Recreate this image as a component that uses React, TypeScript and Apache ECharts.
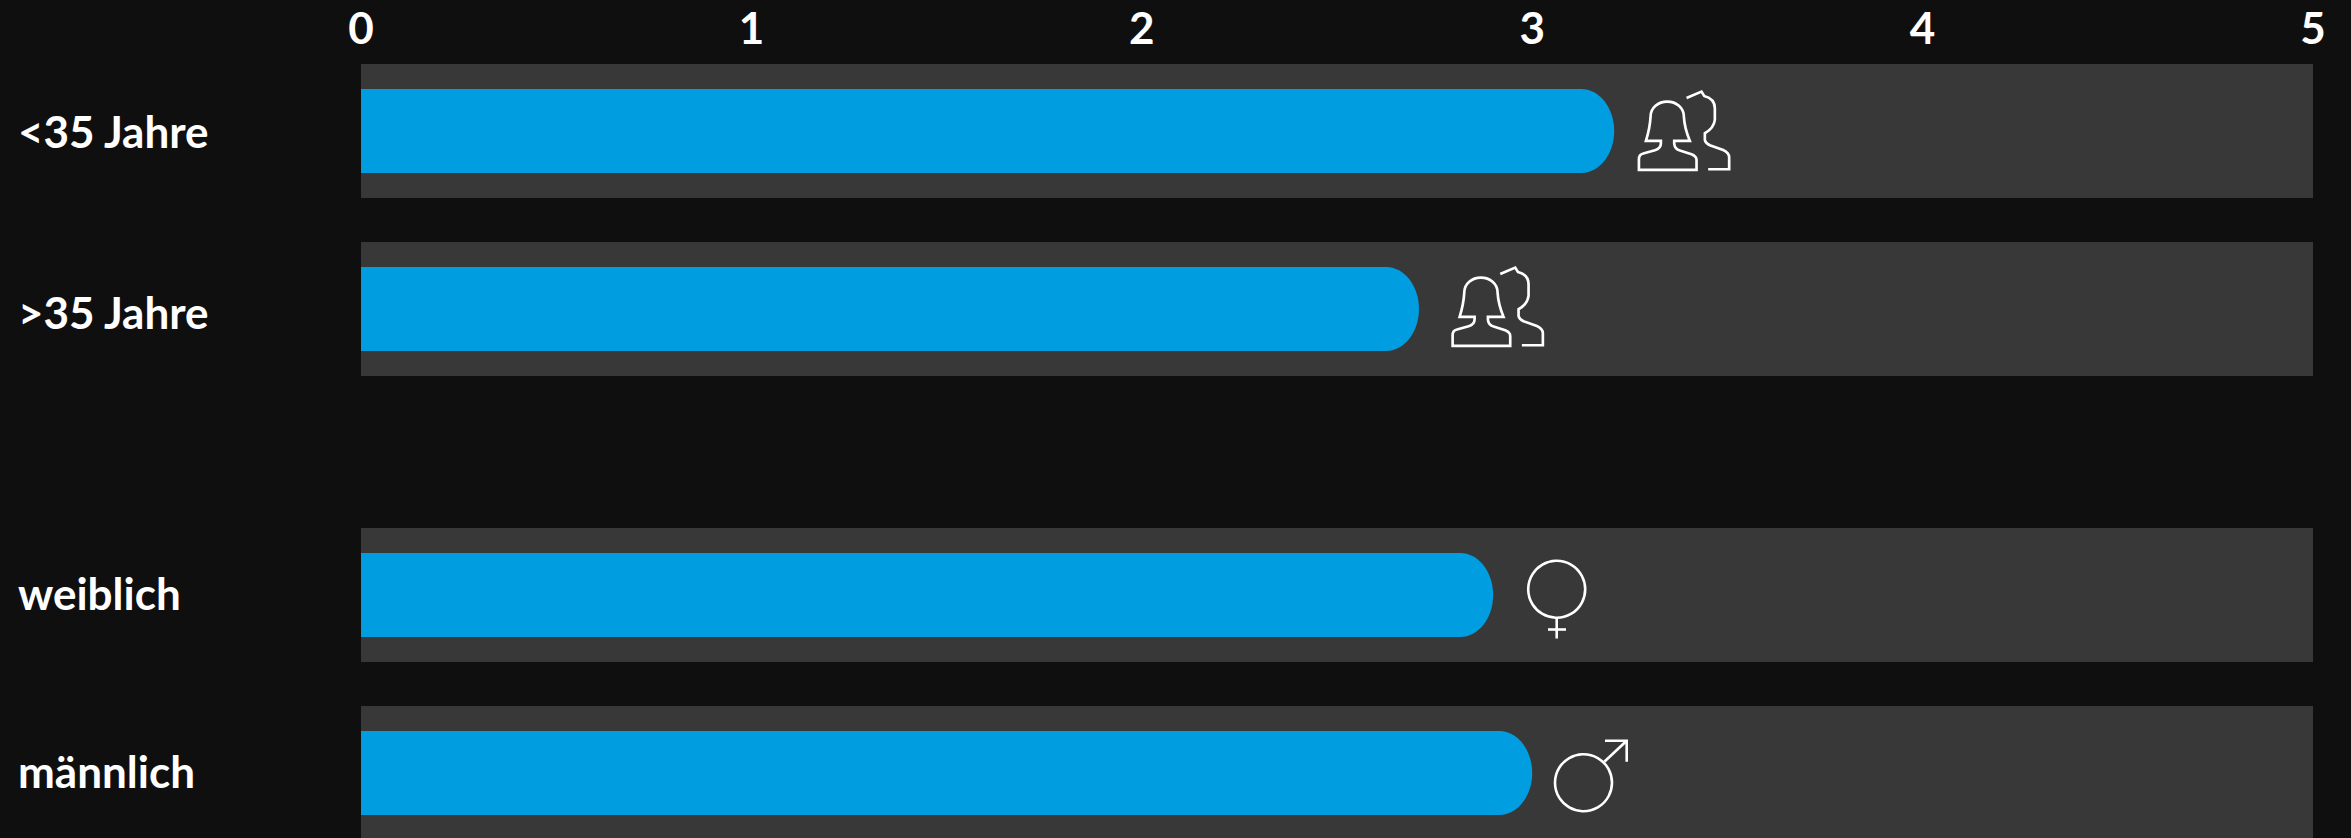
import React, { useEffect, useRef } from "react";
import * as echarts from "echarts";

const ageCategories = ["<35 Jahre", ">35 Jahre"];
const ageValues = [3.21, 2.71];
const genderCategories = ["weiblich", "männlich"];
const genderValues = [2.9, 3.0];
const axisMax = 5;
const axisTicks = [0, 1, 2, 3, 4, 5];

const BG = "#0f0f0f";
const TRACK = "#383838";
const BLUE = "#009ee0";
const FONT = "Lato";
const FONT_SIZE = 44;

const peoplePath =
  "M237 330 L237 298 Q237 284 250 281 L285 271 Q303 266 303 250 L303 243 L258 243 Q270 205 272 170 C272 143 295 125 322 125 C349 125 372 143 372 170 Q374 205 390 243 L343 243 L343 252 Q345 268 360 272 L395 283 Q410 289 410 300 L410 330 Z " +
  "M380 114 L425 95 L433 108 Q465 116 465 145 L465 180 Q462 205 435 220 L435 240 Q437 250 450 256 L490 270 Q508 278 508 292 L508 328 L445 328";
echarts.graphic.registerShape("people", echarts.graphic.extendPath(peoplePath, {}) as any);

const roundedBar = (params: any, api: any) => {
  const [x1, cy] = api.coord([api.value(0), api.value(1)]);
  const [x0] = api.coord([0, api.value(1)]);
  const h = 84;
  const rx = 33;
  const ry = h / 2;
  const k = 0.5523;
  const y0 = cy - ry;
  const y1 = cy + ry;
  const sx = x1 - rx;
  const d =
    `M${x0} ${y0} L${sx} ${y0} ` +
    `C${sx + rx * k} ${y0} ${x1} ${cy - ry * k} ${x1} ${cy} ` +
    `C${x1} ${cy + ry * k} ${sx + rx * k} ${y1} ${sx} ${y1} ` +
    `L${x0} ${y1} Z`;
  return {
    type: "path",
    shape: { pathData: d, x: x0, y: y0, width: x1 - x0, height: h, layout: "cover" },
    style: { fill: BLUE },
  };
};

export default function App() {
  const ref = useRef<HTMLDivElement>(null);
  useEffect(() => {
    document.body.style.margin = "0";
    document.body.style.background = BG;
    document.body.style.overflow = "hidden";
    document.documentElement.style.overflow = "hidden";
    const chart = echarts.init(ref.current!, undefined, { renderer: "svg" });
    const stroke = { stroke: "#ffffff", fill: "none", lineWidth: 2.6 };
    const peopleIcon = (x: number, y: number) => ({
      type: "people",
      x,
      y,
      scaleX: 1 / 3,
      scaleY: 1 / 3,
      silent: true,
      z: 10,
      style: { stroke: "#ffffff", fill: "none", lineWidth: 8 },
    });
    const line = (x1: number, y1: number, x2: number, y2: number) => ({
      type: "line",
      silent: true,
      z: 10,
      shape: { x1, y1, x2, y2 },
      style: stroke,
    });
    const labelStyle = { color: "#ffffff", fontFamily: FONT, fontWeight: "bold", fontSize: FONT_SIZE };
    const yAxis = (gridIndex: number, data: string[], visible: boolean) => ({
      type: "category",
      gridIndex,
      data,
      inverse: true,
      show: visible,
      axisLine: { show: false },
      axisTick: { show: false },
      axisLabel: {
        show: visible,
        margin: 343,
        align: "left",
        ...labelStyle,
        formatter: (v: string) =>
          v === ">35 Jahre" ? `{low|${v}}` : gridIndex === 1 ? `{high|${v}}` : v,
        rich: {
          low: { ...labelStyle, padding: [6, 0, 0, 0] },
          high: { ...labelStyle, padding: [0, 0, 5, 0] },
        },
      },
    });
    const xAxis = (gridIndex: number, visible: boolean) => ({
      type: "value",
      gridIndex,
      min: 0,
      max: axisMax,
      interval: axisTicks[1] - axisTicks[0],
      position: "top",
      show: visible,
      splitLine: { show: false },
      axisLine: { show: false },
      axisTick: { show: false },
      axisLabel: {
        margin: 15,
        verticalAlign: "middle",
        ...labelStyle,
      },
    });
    const track = (i: number, n: number) => ({
      type: "bar",
      xAxisIndex: i,
      yAxisIndex: i * 2 + 1,
      barWidth: 134,
      silent: true,
      z: 1,
      itemStyle: { color: TRACK },
      data: Array(n).fill(axisMax),
    });
    const bar = (i: number, values: number[]) => ({
      type: "custom",
      xAxisIndex: i,
      yAxisIndex: i * 2,
      silent: true,
      z: 2,
      renderItem: roundedBar,
      encode: { x: 0, y: 1 },
      data: values.map((v, idx) => [v, idx]),
    });
    chart.setOption({
      animation: false,
      backgroundColor: BG,
      grid: [
        { left: 361, width: 1952, top: 42, height: 356 },
        { left: 361, width: 1952, top: 506, height: 356 },
      ],
      xAxis: [xAxis(0, true), xAxis(1, false)],
      yAxis: [
        yAxis(0, ageCategories, true),
        yAxis(0, ageCategories, false),
        yAxis(1, genderCategories, true),
        yAxis(1, genderCategories, false),
      ],
      series: [
        track(0, ageCategories.length),
        bar(0, ageValues),
        track(1, genderCategories.length),
        bar(1, genderValues),
      ],
      graphic: [
        peopleIcon(1560, 60),
        peopleIcon(1373.7, 236),
        { type: "circle", silent: true, z: 10, shape: { cx: 1556.7, cy: 589.3, r: 28.5 }, style: stroke },
        line(1556.7, 617.8, 1556.7, 638.5),
        line(1548, 629.5, 1566, 629.5),
        { type: "circle", silent: true, z: 10, shape: { cx: 1583.5, cy: 782.7, r: 28.5 }, style: stroke },
        line(1604.3, 761.7, 1626.7, 740.7),
        { type: "polyline", silent: true, z: 10, shape: { points: [[1605, 740.7], [1626.7, 740.7], [1626.7, 761.7]] }, style: stroke },
      ],
    });
    return () => chart.dispose();
  }, []);
  return <div ref={ref} style={{ position: "fixed", left: 0, top: 0, width: 2351, height: 870 }} />;
}
